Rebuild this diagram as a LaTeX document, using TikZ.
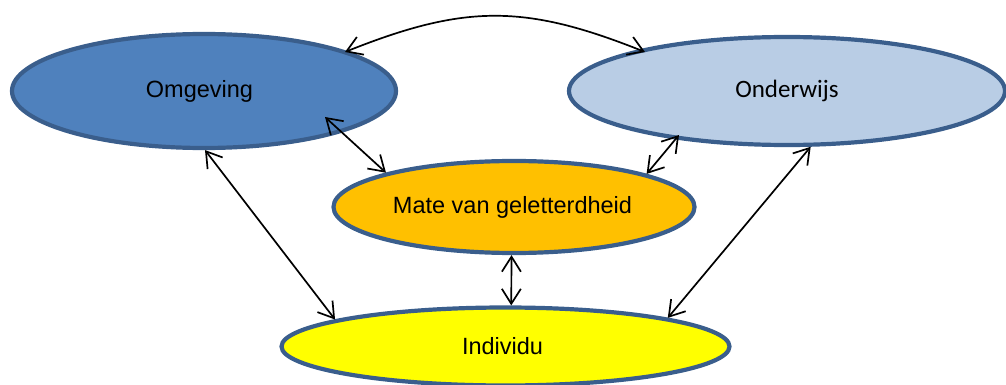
\documentclass[tikz,border=0pt]{standalone}
\usepackage{fontspec}
\setmainfont{Liberation Sans}
\newfontfamily\calibri{Carlito}
\usetikzlibrary{shapes.geometric,arrows.meta,calc}
\definecolor{bord}{HTML}{3A5E8C}
\definecolor{omfill}{HTML}{4F81BD}
\definecolor{ondfill}{HTML}{B9CDE5}
\definecolor{matefill}{HTML}{FFC000}
\definecolor{indfill}{HTML}{FFFF00}
\tikzset{
  ell/.style={ellipse, draw=bord, line width=4.2pt, inner sep=0pt, font=\fontsize{23.5}{28}\selectfont},
  link/.style={line width=1.7pt, {Straight Barb[length=15pt,width=19pt,line width=1.7pt]}-{Straight Barb[length=15pt,width=19pt,line width=1.7pt]}}
}
\begin{document}
\begin{tikzpicture}[x=1pt,y=-1pt]
\useasboundingbox (0,0) rectangle (1006,385);
\node[ell, fill=omfill, minimum width=384pt, minimum height=114pt] (om) at (204,91) {\hspace*{-9pt}Omgeving};
\node[ell, fill=ondfill, minimum width=436pt, minimum height=108pt, font=\calibri\fontsize{25}{30}\selectfont] (ond) at (787,91) {Onderwijs};
\node[ell, fill=matefill, minimum width=361pt, minimum height=92pt] (mate) at (514,207) {\hspace*{-3pt}Mate van geletterdheid};
\node[ell, fill=indfill, minimum width=448pt, minimum height=78pt] (ind) at (505.5,346.5) {\hspace*{-6pt}Individu};
% connector ends
\coordinate (omA) at ($(om.center)+(141,-39)$);
\coordinate (ondA) at ($(ond.center)+(-142,-39)$);
\coordinate (omB) at ($(om.center)+(121,26)$);
\coordinate (ondB) at ($(ond.center)+(-108,44)$);
\draw[link] (omA) .. controls ($(omA)+(120,-48)$) and ($(ondA)+(-120,-48)$) .. (ondA);
\draw[link] (omB) -- (mate.165.1);
\draw[link] (om.-89.5) -- (ind.171.1);
\draw[link] (ondB) -- (mate.14.9);
\draw[link] (ond.-67.5) -- (ind.10);
\draw[link] (mate.-93.4) -- (ind.82);
\end{tikzpicture}
\end{document}
